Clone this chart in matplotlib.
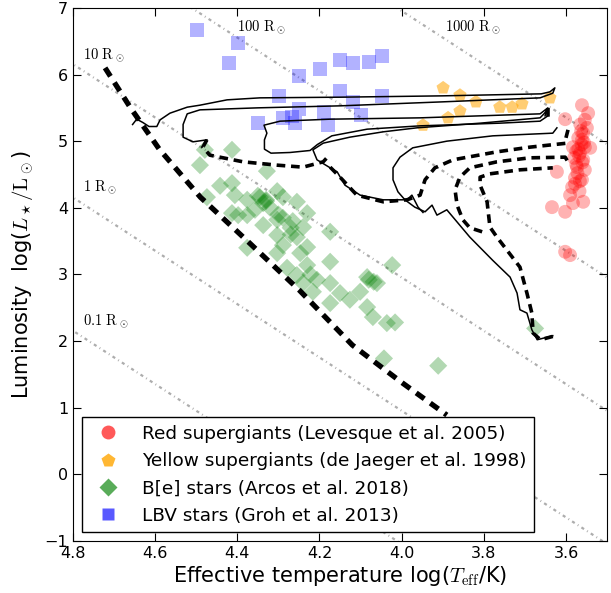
import numpy as np
import matplotlib
matplotlib.use("Agg")
import matplotlib.pyplot as plt
from matplotlib.lines import Line2D

plt.rcParams['font.family'] = ['DejaVu Sans']
plt.rcParams['mathtext.fontset'] = 'cm'

# ---- data (log Teff, log L) ----
rsg_logT = [3.561, 3.546, 3.602, 3.554, 3.549, 3.558, 3.561, 3.583, 3.554, 3.541,
            3.566, 3.558, 3.573, 3.554, 3.622, 3.578, 3.561, 3.585, 3.590, 3.558,
            3.583, 3.634, 3.602, 3.602, 3.590, 3.565, 3.570, 3.562, 3.575, 3.568,
            3.560, 3.572, 3.566, 3.578, 3.556, 3.570, 3.563, 3.580, 3.567, 3.575]
rsg_logL = [5.54, 5.42, 5.33, 5.32, 5.20, 5.12, 5.02, 4.91, 4.91, 4.90,
            4.82, 4.72, 4.61, 4.57, 4.54, 4.45, 4.42, 4.31, 4.19, 4.09,
            4.07, 4.01, 3.94, 3.34, 3.29, 5.25, 5.05, 4.95, 4.85, 4.78,
            4.68, 4.52, 4.40, 4.36, 4.98, 4.88, 5.15, 4.75, 4.25, 4.65]

ysg_logT = [3.899, 3.858, 3.819, 3.761, 3.731, 3.707, 3.639, 3.858, 3.887, 3.948]
ysg_logL = [5.80, 5.69, 5.59, 5.51, 5.51, 5.56, 5.65, 5.45, 5.35, 5.24]

be_logT = [4.479, 4.413, 4.491, 4.328, 4.442, 4.413, 4.406, 4.474, 4.345, 4.303,
           4.289, 4.376, 4.337, 4.255, 4.357, 4.413, 4.398, 4.376, 4.230, 4.303,
           4.289, 4.337, 4.240, 4.174, 4.303, 4.255, 4.376, 4.289, 4.230, 4.303,
           4.247, 4.174, 4.230, 4.279, 4.023, 4.255, 4.206, 4.174, 4.084, 4.060,
           4.240, 4.150, 4.101, 4.216, 4.126, 4.174, 4.084, 4.070, 4.036, 4.016,
           3.675, 3.911, 4.043, 4.068, 4.330, 4.320, 4.350, 4.270, 4.300, 4.330,
           4.222, 4.270, 4.080, 4.265]
be_logL = [4.87, 4.87, 4.64, 4.55, 4.33, 4.37, 4.19, 4.16, 4.16, 4.25,
           4.16, 4.12, 4.07, 4.09, 3.97, 3.92, 3.89, 3.89, 3.92, 3.82,
           3.85, 3.74, 3.71, 3.64, 3.59, 3.56, 3.40, 3.44, 3.41, 3.32,
           3.32, 3.19, 3.14, 3.10, 3.14, 2.99, 2.92, 2.87, 2.96, 2.87,
           2.87, 2.72, 2.74, 2.74, 2.62, 2.57, 2.51, 2.36, 2.27, 2.28,
           2.19, 1.63, 1.74, 2.89, 4.10, 4.00, 4.18, 3.70, 3.90, 4.12,
           3.00, 3.60, 2.92, 3.80]

lbv_logT = [4.498, 4.398, 4.420, 4.250, 4.199, 4.150, 4.118, 4.079, 4.048, 4.299,
            4.150, 4.118, 4.048, 4.250, 4.189, 4.099, 4.350, 4.289, 4.267, 4.260,
            4.179]
lbv_logL = [6.67, 6.47, 6.17, 5.98, 6.08, 6.22, 6.17, 6.19, 6.28, 5.68,
            5.75, 5.59, 5.68, 5.48, 5.44, 5.39, 5.27, 5.35, 5.37, 5.27,
            5.24]

# zero-age main sequence
zams_logT = [4.722, 4.660, 4.590, 4.490, 4.370, 4.250, 4.120, 4.000, 3.890]
zams_logL = [6.10, 5.50, 4.88, 4.16, 3.47, 2.77, 1.94, 1.38, 0.89]

# evolutionary tracks, solid parts
s1_logT = [4.655, 4.645, 4.630, 4.615, 4.596, 4.588, 4.564, 4.522, 4.491, 4.425,
           4.345, 4.150, 3.900, 3.660, 3.639, 3.627, 3.632, 3.663, 3.900, 4.150,
           4.350, 4.491, 4.522, 4.532, 4.532, 4.508, 4.474]
s1_logL = [5.25, 5.33, 5.28, 5.22, 5.22, 5.32, 5.42, 5.51, 5.54, 5.62,
           5.65, 5.66, 5.68, 5.71, 5.74, 5.80, 5.72, 5.65, 5.59, 5.53,
           5.50, 5.47, 5.41, 5.25, 5.06, 4.99, 5.02]
s2_logT = [3.651, 3.644, 3.663, 3.809, 3.955, 4.174, 4.296, 4.335, 4.328, 4.334,
           4.334, 4.318, 4.272, 4.223, 4.205, 4.170, 4.084, 3.955, 3.761, 3.663,
           3.644]
s2_logL = [5.42, 5.50, 5.41, 5.38, 5.35, 5.33, 5.30, 5.24, 5.12, 5.02,
           4.88, 4.82, 4.83, 4.86, 4.95, 5.08, 5.18, 5.23, 5.27, 5.30,
           5.38]
s3_logT = [3.651, 3.644, 3.663, 3.809, 3.963, 4.045, 4.126, 4.191, 4.216, 4.206,
           4.174, 4.157, 4.138, 4.101, 4.045, 3.987, 3.975, 3.960, 3.948]
s3_logL = [5.38, 5.47, 5.35, 5.27, 5.20, 5.14, 5.06, 4.97, 4.87, 4.72,
           4.60, 4.54, 4.34, 4.19, 4.12, 4.12, 4.19, 4.01, 3.93]
s4_logT = [3.622, 3.632, 3.778, 3.890, 3.973, 4.004, 4.021, 4.021, 4.009, 3.992,
           3.968, 3.943, 3.926, 3.914, 3.890, 3.834, 3.778, 3.736, 3.719, 3.712,
           3.695, 3.683, 3.670, 3.632]
s4_logL = [5.20, 5.12, 5.08, 5.00, 4.90, 4.76, 4.60, 4.42, 4.24, 4.12,
           4.01, 3.94, 4.04, 3.89, 3.97, 3.56, 3.21, 2.96, 2.72, 2.47,
           2.42, 2.17, 2.02, 2.08]

# evolutionary tracks, dashed parts
d1_logT = [4.474, 4.484, 4.467, 4.386, 4.303, 4.240, 4.191, 4.182]
d1_logL = [5.02, 4.91, 4.79, 4.69, 4.64, 4.61, 4.69, 4.75]
d2_logT = [4.174, 4.150, 4.109, 4.045, 3.987, 3.955, 3.943, 3.919, 3.875, 3.768,
           3.688, 3.597]
d2_logL = [4.61, 4.46, 4.19, 4.09, 4.12, 4.19, 4.42, 4.60, 4.72, 4.84,
           4.91, 4.97]
d3_logT = [3.804, 3.834, 3.851, 3.865, 3.870, 3.858, 3.834, 3.768, 3.688, 3.602,
           3.595]
d3_logL = [3.64, 3.70, 3.82, 4.04, 4.27, 4.46, 4.60, 4.69, 4.75, 4.76,
           4.69]
d4_logT = [3.632, 3.662, 3.680, 3.683, 3.695, 3.712, 3.768, 3.785, 3.792, 3.809,
           3.809, 3.785, 3.712, 3.632]
d4_logL = [2.07, 2.02, 2.12, 2.42, 2.72, 3.11, 3.56, 3.71, 4.09, 4.34,
           4.46, 4.51, 4.57, 4.60]
d5_logT = [3.644, 3.644]
d5_logL = [5.50, 5.35]
d6_logT = [3.595, 3.600]
d6_logL = [5.17, 5.05]

# radius lines
radii = [0.1, 1, 10, 100, 1000]
radius_labels = [r'$0.1\ \mathrm{R}_\odot$', r'$1\ \mathrm{R}_\odot$', r'$10\ \mathrm{R}_\odot$',
                 r'$100\ \mathrm{R}_\odot$', r'$1000\ \mathrm{R}_\odot$']
label_logT = [4.775, 4.775, 4.775, 4.40, 3.895]
label_logL = [2.29, 4.31, 6.29, 6.71, 6.71]
logT_sun = np.log10(5772.0)

fig = plt.figure(figsize=(6.11, 5.93), dpi=100)
ax = fig.add_axes([0.1195, 0.0877, 0.874, 0.899])

# lines of constant radius
tgrid = np.linspace(3.4, 4.9, 50)
for r in radii:
    ax.plot(tgrid, 2 * np.log10(r) + 4 * (tgrid - logT_sun), color='0.68',
            lw=1.6, dashes=(1.4, 1.6, 0.4, 1.6), zorder=1)
for lab, tx, ty in zip(radius_labels, label_logT, label_logL):
    ax.text(tx, ty, lab, fontsize=10.5, ha='left', va='center', zorder=2)

# observed stars
ax.scatter(lbv_logT, lbv_logL, s=100, marker='s', color='blue', alpha=0.3,
           edgecolors='none', zorder=3)
ax.scatter(be_logT, be_logL, s=85, marker='D', color='green', alpha=0.3,
           edgecolors='none', zorder=3)
ax.scatter(ysg_logT, ysg_logL, s=100, marker='p', color='orange', alpha=0.55,
           edgecolors='none', zorder=3)
ax.scatter(rsg_logT, rsg_logL, s=100, marker='o', color='red', alpha=0.3,
           edgecolors='none', zorder=3)

# ZAMS and tracks
ax.plot(zams_logT, zams_logL, color='k', lw=3.8, dashes=(1.9, 1.4), zorder=5)
for tx, ty in [(s1_logT, s1_logL), (s2_logT, s2_logL), (s3_logT, s3_logL), (s4_logT, s4_logL)]:
    ax.plot(tx, ty, color='k', lw=1.1, zorder=4)
for tx, ty in [(d1_logT, d1_logL), (d2_logT, d2_logL), (d3_logT, d3_logL),
               (d4_logT, d4_logL), (d5_logT, d5_logL), (d6_logT, d6_logL)]:
    ax.plot(tx, ty, color='k', lw=2.6, dashes=(2.4, 1.6), zorder=4)

ax.set_xlim(4.8, 3.5)
ax.set_ylim(-1, 7)
ax.set_xticks([4.8, 4.6, 4.4, 4.2, 4.0, 3.8, 3.6])
ax.set_xticklabels(['4.8', '4.6', '4.4', '4.2', '4.0', '3.8', '3.6'])
ax.set_yticks(range(-1, 8))
ax.tick_params(direction='in', top=True, right=True, length=6, labelsize=11.5)
ax.set_xlabel(r'Effective temperature log($T_{\rm eff}$/K)', fontsize=15, labelpad=2)
ax.set_ylabel(r'Luminosity  log($L_\star/\mathrm{L}_\odot$)', fontsize=15, labelpad=6)

handles = [
    Line2D([], [], ls='none', marker='o', ms=10, color='red', alpha=0.65, mec='none'),
    Line2D([], [], ls='none', marker='p', ms=10, color='orange', alpha=0.8, mec='none'),
    Line2D([], [], ls='none', marker='D', ms=9, color='green', alpha=0.65, mec='none'),
    Line2D([], [], ls='none', marker='s', ms=9, color='blue', alpha=0.65, mec='none'),
]
labels = ['Red supergiants (Levesque et al. 2005)',
          'Yellow supergiants (de Jaeger et al. 1998)',
          'B[e] stars (Arcos et al. 2018)',
          'LBV stars (Groh et al. 2013)']
leg = ax.legend(handles, labels, loc='lower left', bbox_to_anchor=(0.017, 0.017),
                borderaxespad=0, fontsize=13.3, fancybox=False, framealpha=1,
                handletextpad=0.85, labelspacing=0.5, borderpad=0.4)
leg.get_frame().set_edgecolor('k')
leg.set_zorder(10)

fig.savefig('out.png', dpi=100)
